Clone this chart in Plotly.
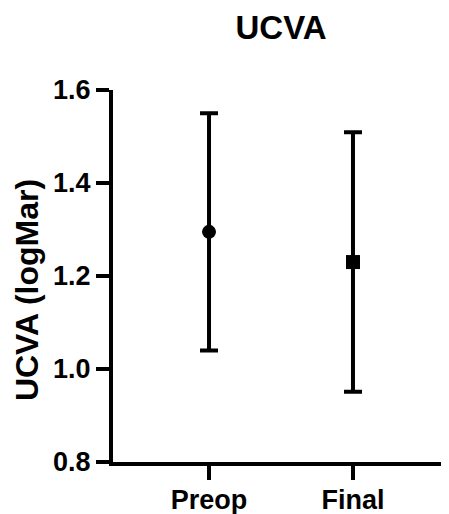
import plotly.graph_objects as go

categories = ["Preop", "Final"]
means = [1.295, 1.230]
sds = [0.255, 0.279]
symbols = ["circle", "square"]
y_ticks = [0.8, 1.0, 1.2, 1.4, 1.6]
y_tick_text = ["0.8", "1.0", "1.2", "1.4", "1.6"]
y_title = "UCVA (logMar)"

FONT = "Liberation Sans"
# page body has an 8px default margin; figure is sized to fill the rest
FIG_W, FIG_H = 441, 506

fig = go.Figure()
for i, cat in enumerate(categories):
    fig.add_trace(go.Scatter(
        x=[cat], y=[means[i]],
        mode="markers",
        marker=dict(symbol=symbols[i], size=14, color="black"),
        error_y=dict(type="data", array=[sds[i]], symmetric=True,
                     color="black", thickness=4, width=9),
        showlegend=False,
    ))

fig.update_layout(
    width=FIG_W, height=FIG_H,
    margin=dict(l=105, r=0, t=82, b=52, autoexpand=False),
    paper_bgcolor="white", plot_bgcolor="white",
    title=dict(text="UCVA", x=0.5, xref="paper", y=1 - 19/FIG_H, yref="container",
               yanchor="middle", automargin=False,
               font=dict(family=FONT, size=33, color="black", weight="bold")),
    font=dict(family=FONT, color="black"),
)
fig.add_annotation(
    text=y_title, textangle=-90, showarrow=False,
    xref="paper", yref="paper", x=-0.256, y=0.462,
    xanchor="center", yanchor="middle",
    font=dict(family=FONT, size=32, color="black", weight="bold"),
)
fig.update_xaxes(
    type="category", categoryorder="array", categoryarray=categories,
    range=[-0.667, 1.667], automargin=False,
    showline=True, linecolor="black", linewidth=4,
    ticks="outside", ticklen=14, tickwidth=4, tickcolor="black",
    ticklabelstandoff=-3,
    tickfont=dict(family=FONT, size=27, color="black", weight="bold"),
    showgrid=False, zeroline=False,
)
fig.update_yaxes(
    range=[0.8, 1.6], tickvals=y_ticks, ticktext=y_tick_text, automargin=False,
    showline=True, linecolor="black", linewidth=4,
    ticks="outside", ticklen=13, tickwidth=4, tickcolor="black",
    tickfont=dict(family=FONT, size=27, color="black", weight="bold"),
    showgrid=False, zeroline=False,
)
fig.write_html("out.html")
